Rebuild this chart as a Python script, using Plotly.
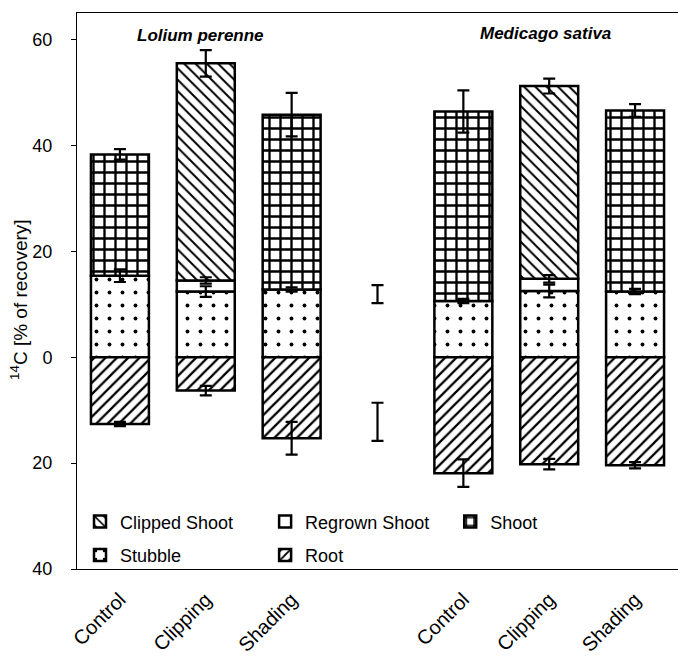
import numpy as np
import plotly.graph_objects as go

# Treatments, with an empty slot separating the two species
categories = ["Control", "Clipping", "Shading", "", "Control", "Clipping", "Shading"]

# 14C recovery (% of recovery) per plant compartment
stubble = [15.4, 12.4, 12.8, None, 10.6, 12.5, 12.4]
regrown_shoot = [None, 2.1, None, None, None, 2.3, None]
clipped_shoot = [None, 41.0, None, None, None, 36.4, None]
shoot = [22.9, None, 33.0, None, 35.8, None, 34.2]
root = [-12.6, -6.3, -15.3, None, -21.9, -20.2, -20.4]

# Standard errors of each compartment
stubble_err = [1.2, 1.0, 0.4, None, 0.4, 1.2, 0.5]
regrown_err = [None, 0.6, None, None, None, 0.7, None]
top_err = [1.0, 2.5, 4.1, None, 4.0, 1.4, 1.2]
root_err = [0.4, 0.9, 3.1, None, 2.6, 1.0, 0.6]

# Error bars standing in the empty slot between species
gap_values = [11.9, -12.2]
gap_err = [1.7, 3.6]

y_ticks = [-40, -20, 0, 20, 40, 60]
y_tick_text = ["40", "20", "0", "20", "40", "60"]

FONT = "Liberation Sans, Arial, sans-serif"
x = np.arange(len(categories))
Y_RANGE = [-40, 65]


def arr(v):
    return np.array([np.nan if a is None else a for a in v], dtype=float)


def bar(name, values, shape, size, solidity, legend, rank):
    return go.Bar(
        x=x, y=values, name=name, width=0.675, legend=legend,
        legendgroup=name, legendrank=rank,
        marker=dict(
            color="white",
            line=dict(color="black", width=2.5),
            pattern=dict(shape=shape, fgcolor="black", bgcolor="white",
                         size=size, solidity=solidity, fillmode="replace"),
        ),
        hoverinfo="skip",
    )


fig = go.Figure()
fig.add_trace(bar("Stubble", stubble, ".", 13, 0.07, "legend", 2))
fig.add_trace(bar("Regrown Shoot", regrown_shoot, "", 8, 0.3, "legend2", 1))
fig.add_trace(bar("Clipped Shoot", clipped_shoot, "\\", 8, 0.25, "legend", 1))
fig.add_trace(bar("Shoot", shoot, "+", 11, 0.38, "legend3", 1))
fig.add_trace(bar("Root", root, "/", 8, 0.28, "legend2", 2))

# Error bars sit at the top of each stacked segment
s = np.nan_to_num(arr(stubble))
r = np.nan_to_num(arr(regrown_shoot))
c = np.nan_to_num(arr(clipped_shoot))
sh = np.nan_to_num(arr(shoot))
tops = [
    (s, stubble_err),
    (s + r, regrown_err),
    (s + r + c + sh, top_err),
    (arr(root), root_err),
]
for ys, errs in tops:
    e = arr(errs)
    mask = ~np.isnan(e)
    fig.add_trace(go.Scatter(
        x=x[mask], y=np.asarray(ys)[mask], mode="markers",
        marker=dict(size=1, color="rgba(0,0,0,0)"),
        error_y=dict(type="data", array=e[mask], color="black", thickness=2.2, width=6),
        showlegend=False, hoverinfo="skip",
    ))

gap_idx = categories.index("")
fig.add_trace(go.Scatter(
    x=[gap_idx] * len(gap_values), y=gap_values, mode="markers",
    marker=dict(size=1, color="rgba(0,0,0,0)"),
    error_y=dict(type="data", array=gap_err, color="black", thickness=2.2, width=6),
    showlegend=False, hoverinfo="skip",
))

zero_pos = (0 - Y_RANGE[0]) / (Y_RANGE[1] - Y_RANGE[0])
legend_common = dict(
    font=dict(family=FONT, size=18, color="black"),
    bgcolor="rgba(0,0,0,0)", orientation="v", traceorder="grouped",
    yanchor="top", y=0.118, xanchor="left", tracegroupgap=7,
)

label_idx = [i for i, cat in enumerate(categories) if cat]

fig.update_layout(
    width=678, height=659,
    margin=dict(l=77, r=0, t=13, b=90),
    barmode="relative",
    plot_bgcolor="white", paper_bgcolor="white",
    font=dict(family=FONT, size=18, color="black"),
    xaxis=dict(
        range=[-0.5, 6.5], tickmode="array", tickvals=label_idx,
        ticktext=[categories[i] for i in label_idx],
        tickangle=-45, ticks="", ticklabelstandoff=10,
        showline=True, linecolor="black", linewidth=1,
        mirror=True, showgrid=False, zeroline=False,
        tickfont=dict(family=FONT, size=20, color="black"),
    ),
    xaxis2=dict(
        overlaying="x", anchor="free", position=zero_pos, range=[-0.5, 6.5],
        tickmode="array", tickvals=[0.5, 1.5, 2.5, 3.5, 4.5, 5.5, 6.5],
        ticks="outside", ticklen=4, tickcolor="black", showticklabels=False,
        showline=True, linecolor="black", linewidth=1, showgrid=False, zeroline=False,
    ),
    yaxis=dict(
        range=Y_RANGE, tickmode="array", tickvals=y_ticks, ticktext=y_tick_text,
        ticks="outside", ticklen=5, tickcolor="black", ticklabelstandoff=15,
        showline=True, linecolor="black", linewidth=1, showgrid=False, zeroline=False,
        tickfont=dict(family=FONT, size=18, color="black"),
    ),
    legend=dict(legend_common, x=0.005),
    legend2=dict(legend_common, x=0.313),
    legend3=dict(legend_common, x=0.621),
    annotations=[
        dict(x=-0.0965, y=0.484, xref="paper", yref="paper", xanchor="center",
             yanchor="middle", textangle=-90,
             text="<sup>14</sup>C [% of recovery]", showarrow=False,
             font=dict(family=FONT, size=19, color="black")),
        dict(x=0.944, y=0.960, xref="x", yref="paper", yanchor="middle",
             text="<b><i>Lolium perenne</i></b>", showarrow=False,
             font=dict(family=FONT, size=17, color="black")),
        dict(x=4.96, y=0.964, xref="x", yref="paper", yanchor="middle",
             text="<b><i>Medicago sativa</i></b>", showarrow=False,
             font=dict(family=FONT, size=17, color="black")),
    ],
)

fig.write_html("out.html")
